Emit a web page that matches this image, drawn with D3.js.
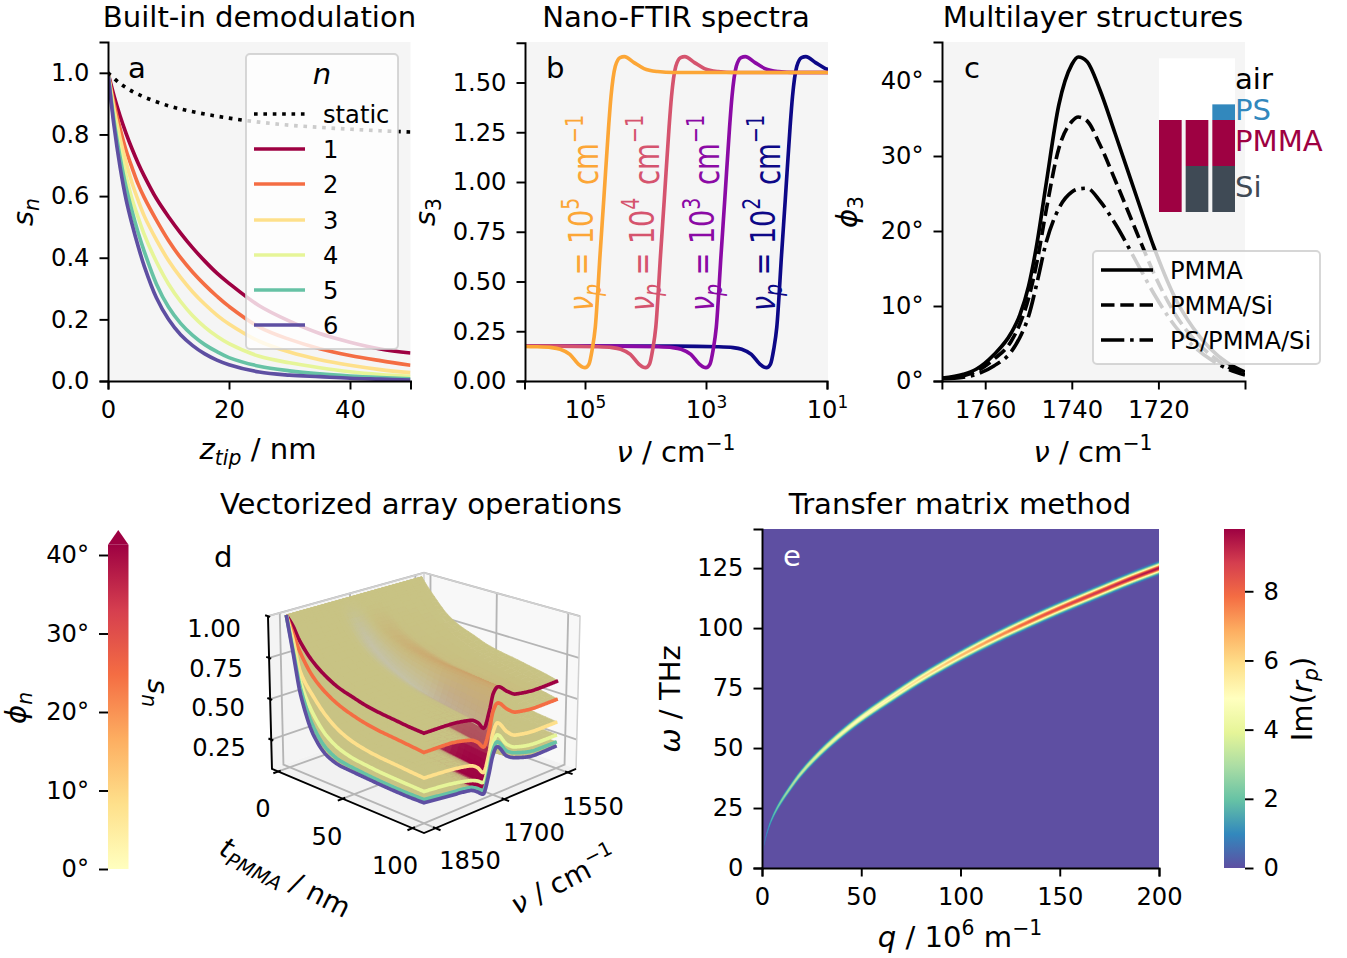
<!DOCTYPE html>
<html><head><meta charset="utf-8">
<script src="https://cdn.jsdelivr.net/npm/d3@7"></script>
<style>
html,body{margin:0;padding:0;background:#fff}
svg{display:block;font-family:"DejaVu Sans",sans-serif}
text{fill:#000}
.tick text{font-size:24.2px;font-family:"DejaVu Sans",sans-serif}
</style></head><body>
<svg id="fig" width="1347" height="958"></svg>
<script>
// ---------- colour tables
const spectralStops = ['#9e0142','#d53e4f','#f46d43','#fdae61','#fee08b','#ffffbf','#e6f598','#abdda4','#66c2a5','#3288bd','#5e4fa2'];
const harmonicColors = ['#9e0142','#f46d43','#fee08b','#e6f598','#66c2a5','#5e4fa2'];
const oscillatorColors = ['#0d0887','#8b0aa5','#d5546e','#fca636'];

// ---------- panel a
const zTip = [0,1,2,3,4,5,6,8,10,12,14,16,18,20,25,30,35,40,45,50];
const s1 = [1,.925,.86,.803,.752,.706,.665,.592,.533,.48,.432,.389,.35,.317,.244,.194,.154,.126,.104,.091];
const s2 = [1,.90,.819,.748,.691,.638,.595,.522,.456,.40,.353,.312,.275,.242,.175,.135,.105,.083,.066,.051];
const s3 = [1,.882,.787,.708,.641,.585,.535,.458,.391,.336,.289,.249,.214,.185,.129,.094,.069,.051,.037,.027];
const s4 = [1,.861,.752,.664,.589,.53,.475,.387,.315,.258,.212,.175,.145,.121,.08,.059,.043,.03,.021,.015];
const s5 = [1,.844,.726,.628,.549,.48,.42,.315,.24,.187,.148,.118,.095,.076,.048,.033,.023,.016,.011,.007];
const s6 = [1,.827,.694,.588,.507,.436,.372,.27,.2,.15,.115,.088,.068,.053,.029,.019,.014,.009,.006,.003];
const zStatic = [0,2,5,10,15,20,25,30,35,40,45,50];
const sStatic = [1,.965,.93,.893,.87,.853,.84,.83,.823,.817,.812,.808];
const legendA = ['1','2','3','4','5','6'];

// ---------- panel b
const plasmaFreq = [100,1000,10000,100000];
const plasmaExp = ['2','3','4','5'];
const decadesFromPeak = [-6,-1.5,-.8,-.55,-.41,-.25,-.11,-.04,0,.066,.12,.17,.25,.31,.39,.43,.5,.58,.65,.81,.975,1.2,1.47,2,6];
const sShape = [.175,.175,.172,.168,.16,.134,.085,.07,.067,.085,.16,.27,.64,.91,1.277,1.43,1.58,1.625,1.63,1.60,1.57,1.555,1.55,1.55,1.55];

// ---------- panel c
const nuC = [1770,1765,1762,1758,1754,1752,1750,1748,1746,1743,1740,1738.5,1736.5,1733.5,1730,1725,1721,1716,1712,1708,1704,1700];
const phiPMMA = [.4,.9,1.6,3.5,6.4,8.8,12.6,18.5,26,36.8,42.2,43.2,42.6,38.8,33,24.5,17.8,10.9,7.1,4.3,2.4,1.2];
const phiPMMASi = [.35,.7,1.3,2.9,5.3,7.6,11,16,22.5,31,34.6,35.2,34.7,31.5,26.8,19.8,14.3,8.8,5.7,3.5,1.9,1];
const phiPSPMMASi = [.3,.5,.9,2,3.9,5.8,8.6,13.2,18.3,23,25.2,25.6,25.7,24,21,15.8,11.6,7.2,4.7,2.9,1.6,.8];
const legendC = ['PMMA','PMMA/Si','PS/PMMA/Si'];
const layerNames = ['air','PS','PMMA','Si'];
const layerColors = ['#000','#3288bd','#9e0142','#3f4a55'];

// ---------- panel d: surfaces read along their three visible edges
const tGrid = [0,5,10,20,30,40,50,60,70,80,90,100];
const frontT = [
 [1,.950,.874,.775,.713,.671,.647,.625,.612,.603,.594,.589],
 [1,.905,.809,.683,.613,.568,.539,.518,.505,.497,.488,.479],
 [1,.865,.688,.564,.473,.414,.380,.362,.351,.345,.338,.332],
 [1,.824,.627,.453,.354,.305,.282,.272,.264,.260,.257,.254],
 [1,.794,.587,.373,.274,.236,.225,.217,.211,.207,.206,.207],
 [1,.774,.546,.323,.234,.206,.200,.195,.190,.187,.186,.188]];
const backT = [
 [1,.945,.896,.809,.759,.728,.695,.676,.662,.645,.629,.608],
 [1,.90,.83,.72,.655,.615,.585,.56,.545,.53,.515,.497],
 [1,.86,.71,.6,.52,.465,.43,.41,.39,.375,.365,.356],
 [1,.82,.65,.49,.40,.35,.32,.305,.295,.285,.28,.276],
 [1,.79,.61,.41,.32,.275,.255,.245,.24,.235,.233,.233],
 [1,.77,.57,.36,.28,.24,.22,.215,.21,.208,.206,.208]];
const nuGrid = [1850,1800,1750,1735,1721,1709,1701,1692,1669,1650,1600,1550];
const frontNu = [
 [.589,.585,.564,.535,.489,.583,.674,.703,.655,.622,.605,.608],
 [.479,.475,.447,.42,.378,.47,.57,.608,.55,.514,.496,.497],
 [.332,.32,.296,.27,.225,.33,.44,.49,.415,.376,.356,.356],
 [.254,.238,.208,.19,.166,.27,.37,.419,.34,.304,.277,.276],
 [.207,.187,.167,.145,.119,.225,.33,.377,.30,.269,.235,.233],
 [.188,.169,.149,.125,.096,.2,.3,.348,.27,.239,.205,.208]];
const wiggleReach = [0,.04,.1,.24,.38,.5,.62,.72,.8,.88,.94,1];
// tint of each surface over nu, along t
const tintNu = [1850,1765,1750,1738,1725,1712,1700,1690,1678,1665,1650,1550];
const greyAcross = [0,0,.1,.6,1,.6,.1,0,0,0,0,0];
const orangeAcross = [0,0,0,0,0,.15,.5,.9,1,.8,.2,0];
const crimsonAcross = [0,0,.1,.85,1,.95,.25,0,0,0,0,0];
const greyAlongT = [0,.15,.5,.85,.9,.9,.9,.9,.85,.7,.5,.3];
const orangeAlongT = [0,0,.1,.3,.45,.6,.7,.8,.9,.95,1,1];
const crimsonAlongT = [0,0,0,0,0,0,.02,.25,.75,.95,1,1];
const crimsonByHarmonic = [.1,.6,1,1,1,1];
const tTicks = [0,50,100];
const nuTicks = [1850,1700,1550];
const zTicks = [.25,.5,.75,1];

// ---------- panel e: ridge of the dispersion
const qRidge = [0,1,3,5,8,13,20,30,40,50,65,80,100,120,135,150,170,185,200];
const wRidge = [4,9.5,16,20.5,25.5,32,39.8,48.6,56,62.5,71,79,88.5,97,102.8,108.3,115.2,120.3,125];
const peakRidge = [.3,.8,1.4,1.9,2.4,3,3.6,4.2,4.7,5.2,5.6,6.1,6.8,7.6,8.3,8.7,9.1,9.4,9.7];
const widthRidge = [.5,.55,.6,.65,.72,.8,.85,.92,.97,1,1.05,1.08,1.12,1.18,1.2,1.2,1.2,1.2,1.2];

// ---------- helpers
const svg = d3.select('#fig');
const defs = svg.append('defs');
const BIG = 29.1, TICK = 24.2, SPINE = 1.94, LW = 3.64, TL = 8.5;
const DOT = '3.64 5.74', DASH = '13.5 5.8', DASHDOT = '23.3 5.8 3.6 5.8';
const spectral = d3.scaleLinear().domain(d3.range(11).map(i=>i/10)).range(spectralStops).interpolate(d3.interpolateRgb);

function rich(sel, segs, size){
  // segs: [text, style] with style: '' | 'i' | 'sub' | 'isub' | 'sup'
  let off = 0;
  segs.forEach(([t,st])=>{
    const small = st==='sub'||st==='isub'||st==='sup';
    const target = (st==='sub'||st==='isub') ? size*.22 : st==='sup' ? -size*.42 : 0;
    sel.append('tspan').attr('dy',target-off).attr('font-size',small?size*.7:size)
      .attr('font-style',(st==='i'||st==='isub')?'italic':'normal').text(t);
    off = target;
  });
  return sel;
}
function label(g,x,y,segs,opt={}){
  const size = opt.size||BIG;
  const t = g.append('text').attr('text-anchor',opt.anchor||'middle').attr('font-size',size)
    .attr('transform',`translate(${x},${y}) rotate(${opt.rot||0}) scale(1,${opt.cross||1})`);
  if(opt.fill) t.style('fill',opt.fill);
  return rich(t,segs,size);
}
function clip(id,x0,y0,x1,y1){
  defs.append('clipPath').attr('id',id).append('rect').attr('x',x0).attr('y',y0).attr('width',x1-x0).attr('height',y1-y0);
}
function styleAxis(g){
  g.selectAll('.domain').attr('stroke','#000').attr('stroke-width',SPINE);
  g.selectAll('.tick line').attr('stroke','#000').attr('stroke-width',SPINE);
}
function frame(x0,y0,x1,y1,fill){
  svg.append('rect').attr('x',x0).attr('y',y0).attr('width',x1-x0).attr('height',y1-y0).attr('fill',fill);
}
function legendBox(x,y,w,h){
  svg.append('rect').attr('x',x).attr('y',y).attr('width',w).attr('height',h).attr('rx',4)
    .attr('fill','rgba(255,255,255,.8)').attr('stroke','rgba(204,204,204,.8)').attr('stroke-width',SPINE);
}
function monotone(xs,ys){
  const n=xs.length, d=[], m=[];
  for(let i=0;i<n-1;i++) d.push((ys[i+1]-ys[i])/(xs[i+1]-xs[i]));
  m[0]=d[0]; m[n-1]=d[n-2];
  for(let i=1;i<n-1;i++) m[i]= d[i-1]*d[i]<=0 ? 0 : 2*d[i-1]*d[i]/(d[i-1]+d[i]);
  return x=>{
    let i=d3.bisectRight(xs,x)-1; i=Math.max(0,Math.min(n-2,i));
    const h=xs[i+1]-xs[i], s=(x-xs[i])/h, s2=s*s, s3=s2*s;
    return (2*s3-3*s2+1)*ys[i]+(s3-2*s2+s)*h*m[i]+(-2*s3+3*s2)*ys[i+1]+(s3-s2)*h*m[i+1];
  };
}

// ---------- titles
[['Built-in demodulation',259.5,27],['Nano-FTIR spectra',676,27],['Multilayer structures',1093,27],
 ['Vectorized array operations',421,513.5],['Transfer matrix method',960,513.5]].forEach(([t,x,y])=>{
  svg.append('text').attr('x',x).attr('y',y).attr('text-anchor','middle').attr('font-size',BIG).text(t);
});

// ---------- panel a
(function(){
  const x=d3.scaleLinear().domain([0,50]).range([108,410.5]);
  const y=d3.scaleLinear().domain([0,1.1]).range([381,42]);
  frame(108,42,410.5,381,'#f5f5f5'); clip('ca',108,42,410.5,381);
  const g=svg.append('g').attr('clip-path','url(#ca)');
  const line=d3.line().x((d,i)=>x(zTip[i])).y(d=>y(d)).curve(d3.curveCatmullRom.alpha(.5));
  [s1,s2,s3,s4,s5,s6].forEach((s,i)=>g.append('path').attr('d',line(s)).attr('fill','none').attr('stroke',harmonicColors[i]).attr('stroke-width',LW));
  const ls=d3.line().x((d,i)=>x(zStatic[i])).y(d=>y(d)).curve(d3.curveCatmullRom.alpha(.5));
  g.append('path').attr('d',ls(sStatic)).attr('fill','none').attr('stroke','#000').attr('stroke-width',LW).attr('stroke-dasharray',DOT);
  const ax=svg.append('g').attr('transform','translate(0,381)').call(d3.axisBottom(x).tickValues([0,20,40]).tickSizeOuter(0).tickSize(TL).tickPadding(11));
  const ay=svg.append('g').attr('transform','translate(108,0)').call(d3.axisLeft(y).tickValues([0,.2,.4,.6,.8,1]).tickFormat(d3.format('.1f')).tickSizeOuter(0).tickSize(TL).tickPadding(10));
  [ax,ay].forEach(styleAxis);
  label(svg,128,78,[['a','']],{anchor:'start'});
  label(svg,258,459,[['z','i'],['tip','isub'],[' / nm','']]);
  label(svg,33,212,[['s','i'],['n','isub']],{rot:-90});
  legendBox(246,54,152,295);
  label(svg,322,84,[['n','i']]);
  const rows=[114,149,184,220,255,290,325];
  const lx=d3.scaleLinear().domain([0,1]).range([254,305]);
  svg.append('line').attr('x1',lx(0)).attr('x2',lx(1)).attr('y1',rows[0]).attr('y2',rows[0]).attr('stroke','#000').attr('stroke-width',LW).attr('stroke-dasharray',DOT);
  svg.append('text').attr('x',323).attr('y',rows[0]+8.5).attr('font-size',TICK).text('static');
  legendA.forEach((t,i)=>{
    svg.append('line').attr('x1',lx(0)).attr('x2',lx(1)).attr('y1',rows[i+1]).attr('y2',rows[i+1]).attr('stroke',harmonicColors[i]).attr('stroke-width',LW);
    svg.append('text').attr('x',323).attr('y',rows[i+1]+8.5).attr('font-size',TICK).text(t);
  });
})();

// ---------- panel b
(function(){
  const x=d3.scaleLog().domain([1e6,1e1]).range([524.5,827]);
  const y=d3.scaleLinear().domain([0,1.7]).range([381,42.7]);
  frame(525,42,828,381,'#f5f5f5'); clip('cb',525,42,828,381);
  const g=svg.append('g').attr('clip-path','url(#cb)');
  plasmaFreq.forEach((vp,k)=>{
    const line=d3.line().x((d,i)=>x(vp*Math.pow(10,-decadesFromPeak[i]))).y(d=>y(d)).curve(d3.curveMonotoneX);
    g.append('path').attr('d',line(sShape)).attr('fill','none').attr('stroke',oscillatorColors[k]).attr('stroke-width',LW);
  });
  const ax=svg.append('g').attr('transform','translate(0,381)').call(d3.axisBottom(x).tickValues([1e5,1e3,1e1]).tickFormat('').tickSizeOuter(0).tickSize(TL).tickPadding(11));
  ax.selectAll('.tick').each(function(d){
    const t=d3.select(this).append('text').attr('y',37).attr('text-anchor','middle').attr('font-size',TICK).style('fill','#000');
    rich(t,[['10',''],[String(Math.round(Math.log10(d))),'sup']],TICK);
  });
  const ay=svg.append('g').attr('transform','translate(525,0)').call(d3.axisLeft(y).tickValues([0,.25,.5,.75,1,1.25,1.5]).tickFormat(d3.format('.2f')).tickSizeOuter(0).tickSize(TL).tickPadding(10));
  [ax,ay].forEach(styleAxis);
  label(svg,546,78,[['b','']],{anchor:'start'});
  label(svg,676,462,[['ν','i'],[' / cm',''],['−1','sup']]);
  label(svg,435,212,[['s','i'],['3','sub']],{rot:-90});
  plasmaFreq.forEach((vp,k)=>{
    label(svg,x(vp)+8,311,[['ν','i'],['p','isub'],[' = 10',''],[plasmaExp[k],'sup']],{rot:-90,fill:oscillatorColors[k],anchor:'start',size:27,cross:1.27});
    label(svg,x(vp)+13,185,[['cm',''],['−1','sup']],{rot:-90,fill:oscillatorColors[k],anchor:'start',size:27.5,cross:1.3});
  });
})();

// ---------- panel c
(function(){
  const x=d3.scaleLinear().domain([1770,1700]).range([941.9,1245]);
  const y=d3.scaleLinear().domain([0,45.2]).range([381,42]);
  frame(942,42,1245,381,'#f5f5f5'); clip('cc',942,42,1245,381);
  const g=svg.append('g').attr('clip-path','url(#cc)');
  const line=d3.line().x((d,i)=>x(nuC[i])).y(d=>y(d)).curve(d3.curveMonotoneX);
  const dashes=[null,DASH,DASHDOT];
  [phiPMMA,phiPMMASi,phiPSPMMASi].forEach((s,i)=>g.append('path').attr('d',line(s)).attr('fill','none').attr('stroke','#000').attr('stroke-width',LW).attr('stroke-dasharray',dashes[i]));
  const ax=svg.append('g').attr('transform','translate(0,381)').call(d3.axisBottom(x).tickValues([1760,1740,1720]).tickFormat(d3.format('d')).tickSizeOuter(0).tickSize(TL).tickPadding(11));
  const ay=svg.append('g').attr('transform','translate(942,0)').call(d3.axisLeft(y).tickValues([0,10,20,30,40]).tickFormat(d=>d+'°').tickSizeOuter(0).tickSize(TL).tickPadding(10));
  [ax,ay].forEach(styleAxis);
  label(svg,964,78,[['c','']],{anchor:'start'});
  label(svg,1093,462,[['ν','i'],[' / cm',''],['−1','sup']]);
  label(svg,857,212,[['ϕ','i'],['3','sub']],{rot:-90});
  // inset layer sketch, drawn from a thickness scale
  const columns=[[['PMMA',0,100]],[['Si',0,50],['PMMA',50,100]],[['Si',0,50],['PMMA',50,100],['PS',100,117]]];
  const ix=d3.scaleBand().domain([0,1,2]).range([1159,1235]).paddingInner(.15);
  const iy=d3.scaleLinear().domain([0,100]).range([212,120]);
  const col={PMMA:'#9e0142',Si:'#3f4a55',PS:'#3288bd'};
  svg.append('rect').attr('x',1159).attr('y',iy(167)).attr('width',76).attr('height',iy(100)-iy(167)).attr('fill','#fff');
  columns.forEach((c,i)=>c.forEach(([m,a,b])=>{
    svg.append('rect').attr('x',ix(i)).attr('width',ix.bandwidth()).attr('y',iy(b)).attr('height',iy(a)-iy(b)).attr('fill',col[m]);
  }));
  [89,120,151,197].forEach((yy,i)=>{
    svg.append('text').attr('x',1235).attr('y',yy).attr('font-size',29.1).style('fill',layerColors[i]).text(layerNames[i]);
  });
  legendBox(1093,251,227,113);
  const rows=[270,305,340];
  legendC.forEach((t,i)=>{
    svg.append('line').attr('x1',1101).attr('x2',1153).attr('y1',rows[i]).attr('y2',rows[i]).attr('stroke','#000').attr('stroke-width',LW).attr('stroke-dasharray',dashes[i]);
    svg.append('text').attr('x',1170).attr('y',rows[i]+8.5).attr('font-size',TICK).text(t);
  });
})();

// ---------- colourbar left of panel d
(function(){
  const y=d3.scaleLinear().domain([0,40]).range([869,555]);
  const grad=defs.append('linearGradient').attr('id','gPhi').attr('x1',0).attr('x2',0).attr('y1',1).attr('y2',0);
  [.5,.4,.3,.2,.1,0].forEach((f,i)=>grad.append('stop').attr('offset',i/5).attr('stop-color',spectral(f)));
  svg.append('rect').attr('x',108).attr('width',20.5).attr('y',y(41.3)).attr('height',y(0)-y(41.3)).attr('fill','url(#gPhi)');
  svg.append('path').attr('d',d3.line()([[108,y(41.3)],[118.25,y(43.2)],[128.5,y(41.3)]])).attr('fill','#9e0142');
  const ay=svg.append('g').attr('transform','translate(108,0)').call(d3.axisLeft(y).tickValues([0,10,20,30,40]).tickFormat(d=>d+'°').tickSizeOuter(0).tickSize(9).tickPadding(10));
  ay.select('.domain').remove(); styleAxis(ay);
  label(svg,26,708,[['ϕ','i'],['n','isub']],{rot:-90});
})();

// ---------- panel d
(function(){
  const U=d3.scaleLinear().domain([0,100]).range([.045,.93]);
  const V=d3.scaleLinear().domain([1850,1550]).range([.07,.94]);
  const W=d3.scaleLinear().domain([.068,1]).range([0,1]);
  const P=(u,v,w)=>{
    const a=u+v-1,d=u-v,f=1/(1-.085*d-.026*(w-.5));
    return [424+154*a*f, 693.5+f*(53.2*d-152.6*(w-.5))];
  };
  const seg=(g,pts,c,w)=>g.append('path').attr('d',d3.line()(pts)).attr('fill','none').attr('stroke',c).attr('stroke-width',w);
  const g=svg.append('g');
  // panes
  const fillPane=(pts,c)=>g.append('path').attr('d',d3.line()(pts)+'Z').attr('fill',c).attr('stroke','none');
  fillPane([P(0,0,0),P(0,1,0),P(0,1,1),P(0,0,1)],'#f4f4f4');
  fillPane([P(0,1,0),P(1,1,0),P(1,1,1),P(0,1,1)],'#f8f8f8');
  fillPane([P(0,0,0),P(1,0,0),P(1,1,0),P(0,1,0)],'#f2f2f2');
  const GRID='#b5b5b5';
  zTicks.forEach(z=>{const w=W(z); seg(g,[P(0,0,w),P(0,1,w),P(1,1,w)],GRID,1.86);});
  tTicks.forEach(t=>{const u=U(t); seg(g,[P(u,0,0),P(u,1,0),P(u,1,1)],GRID,1.86);});
  nuTicks.forEach(n=>{const v=V(n); seg(g,[P(1,v,0),P(0,v,0),P(0,v,1)],GRID,1.86);});
  seg(g,[P(0,0,1),P(0,1,1),P(1,1,1),P(1,1,0)],'#d0d0d0',1.5);
  seg(g,[P(0,1,0),P(0,1,1)],'#d0d0d0',1.5);
  // axis lines & ticks
  seg(g,[P(0,0,1),P(0,0,0),P(1,0,0),P(1,1,0)],'#000',SPINE);
  tTicks.forEach(t=>{const u=U(t); seg(g,[P(u,-.03,0),P(u,.015,0)],'#000',SPINE);});
  nuTicks.forEach(n=>{const v=V(n); seg(g,[P(.985,v,0),P(1.03,v,0)],'#000',SPINE);});
  zTicks.forEach(z=>{const w=W(z); seg(g,[P(-.02,.0,w),P(.015,0,w)],'#000',SPINE);});

  // surfaces
  const sNu=nuGrid.map(n=>1850-n), sTint=tintNu.map(n=>1850-n);
  const khaki=d3.rgb('#c8c384');
  const grey=monotone(sTint,greyAcross), orange=monotone(sTint,orangeAcross), crimson=monotone(sTint,crimsonAcross);
  const gT=monotone(tGrid,greyAlongT), oT=monotone(tGrid,orangeAlongT), cT=monotone(tGrid,crimsonAlongT);
  const reach=monotone(tGrid,wiggleReach);
  const surf=frontT.map((f,i)=>{
    const F=monotone(tGrid,f), B=monotone(tGrid,backT[i]), N=monotone(sNu,frontNu[i]);
    return (t,nu)=>{
      const s=(1850-nu)/300;
      const base=F(t)*(1-s)+B(t)*s;
      const lin=N(0)*(1-s)+N(300)*s;
      return base+(N(1850-nu)-lin)*reach(t);
    };
  });
  const tMesh=[0,1,2,3,4,5,6,8,10,12,14,16,18,20,24,28,32,36,40,44,48,52,56,60,64,68,72,76,80,84,88,92,96,100];
  const nuMesh=[1550,1565,1580,1600,1620,1640,1650,1656,1662,1668,1674,1680,1684,1688,1692,1695,1698,1701,1704,1707,1710,1713,1716,1719,1721,1724,1728,1732,1736,1740,1746,1752,1760,1770,1785,1800,1825,1850];
  const surfGroup=svg.append('g');
  const mix=(c,o,k)=>{k=Math.max(0,Math.min(1,k));return [c[0]+(o[0]-c[0])*k,c[1]+(o[1]-c[1])*k,c[2]+(o[2]-c[2])*k];};
  const cGrey=[196,194,172], cOrange=[205,160,105], cCrim=[158,1,66];
  for(let n=5;n>=0;n--){
    const fz=surf[n];
    for(let i=0;i<tMesh.length-1;i++) for(let j=0;j<nuMesh.length-1;j++){
      const t0=tMesh[i],t1=tMesh[i+1],v0=nuMesh[j],v1=nuMesh[j+1];
      const tm=(t0+t1)/2, vm=(v0+v1)/2, sm=1850-vm;
      let c=[khaki.r,khaki.g,khaki.b];
      if(n===0){ c=mix(c,cGrey,grey(sm)*gT(tm)); c=mix(c,cOrange,orange(sm)*oT(tm)); }
      c=mix(c,cCrim,crimson(sm)*cT(tm)*crimsonByHarmonic[n]);
      const col=`rgb(${c.map(Math.round).join(',')})`;
      const q=[[t0,v0],[t1,v0],[t1,v1],[t0,v1]].map(([t,v])=>P(U(t),V(v),W(fz(t,v))));
      surfGroup.append('path').attr('d',d3.line()(q)+'Z').attr('fill',col).attr('stroke',col).attr('stroke-width',.7);
    }
  }
  // harmonic lines along the two front edges
  const tFine=d3.range(0,100.01,1), nuFine=d3.range(1850,1549.9,-2);
  frontT.forEach((f,n)=>{
    const fz=surf[n];
    const pts=[...tFine.map(t=>P(U(t),V(1850),W(fz(t,1850)))),...nuFine.map(v=>P(U(100),V(v),W(fz(100,v))))];
    svg.append('path').attr('d',d3.line()(pts)).attr('fill','none').attr('stroke',harmonicColors[n]).attr('stroke-width',3.64).attr('stroke-linejoin','miter');
  });
  // text
  [['1.00',241,637],['0.75',243,677],['0.50',245,716],['0.25',246,756]].forEach(([t,x,yy])=>svg.append('text').attr('x',x).attr('y',yy).attr('text-anchor','end').attr('font-size',TICK).text(t));
  [['0',263,817],['50',327,845],['100',395,874]].forEach(([t,x,yy])=>svg.append('text').attr('x',x).attr('y',yy).attr('text-anchor','middle').attr('font-size',TICK).text(t));
  [['1550',593,815],['1700',534,841],['1850',470,869]].forEach(([t,x,yy])=>svg.append('text').attr('x',x).attr('y',yy).attr('text-anchor','middle').attr('font-size',TICK).text(t));
  label(svg,214,567,[['d','']],{anchor:'start'});
  label(svg,148,693,[['s','i'],['n','isub']],{rot:90});
  label(svg,281,886,[['t','i'],['PMMA','isub'],[' / nm','']],{rot:27,size:28});
  label(svg,568,889,[['ν','i'],[' / cm',''],['−1','sup']],{rot:-27,size:28});
})();

// ---------- panel e
(function(){
  const x=d3.scaleLinear().domain([0,200]).range([762,1159]);
  const y=d3.scaleLinear().domain([0,141.3]).range([868,529]);
  const cmax=9.8;
  const colour=v=>spectral(1-v/cmax);
  frame(762,529,1159,868,colour(0)); clip('ce',762,529,1159,868);
  const g=svg.append('g').attr('clip-path','url(#ce)');
  const W=monotone(qRidge,wRidge),A=monotone(qRidge,peakRidge),S=monotone(qRidge,widthRidge);
  const qs=[...d3.range(0,10,.25),...d3.range(10,200.5,1)];
  d3.range(.25,cmax,.25).forEach(L=>{
    const half=q=>S(q)*Math.sqrt(2*Math.log(A(q)/L));
    const area=d3.area().defined(q=>A(q)>L).x(q=>x(q)).y0(q=>y(W(q)-half(q))).y1(q=>y(W(q)+half(q)));
    g.append('path').attr('d',area(qs)).attr('fill',colour(L));
  });
  const ax=svg.append('g').attr('transform','translate(0,868)').call(d3.axisBottom(x).tickValues([0,50,100,150,200]).tickSizeOuter(0).tickSize(TL).tickPadding(11));
  const ay=svg.append('g').attr('transform','translate(762,0)').call(d3.axisLeft(y).tickValues([0,25,50,75,100,125]).tickSizeOuter(0).tickSize(TL).tickPadding(10));
  [ax,ay].forEach(styleAxis);
  label(svg,783,566,[['e','']],{anchor:'start',fill:'#fff'});
  label(svg,960,947,[['q','i'],[' / 10',''],['6','sup'],[' m',''],['−1','sup']]);
  label(svg,680,699,[['ω','i'],[' / THz','']],{rot:-90});
  // colourbar
  const c=d3.scaleLinear().domain([0,cmax]).range([868,529]);
  const grad=defs.append('linearGradient').attr('id','gIm').attr('x1',0).attr('x2',0).attr('y1',1).attr('y2',0);
  d3.range(0,1.0001,.1).forEach(f=>grad.append('stop').attr('offset',f).attr('stop-color',spectral(1-f)));
  svg.append('rect').attr('x',1224).attr('width',21).attr('y',529).attr('height',339).attr('fill','url(#gIm)');
  const ac=svg.append('g').attr('transform','translate(1245,0)').call(d3.axisRight(c).tickValues([0,2,4,6,8]).tickSizeOuter(0).tickSize(TL).tickPadding(10));
  ac.select('.domain').remove(); styleAxis(ac);
  label(svg,1312,699,[['Im(',''],['r','i'],['p','isub'],[')','']],{rot:-90});
})();
</script></body></html>
